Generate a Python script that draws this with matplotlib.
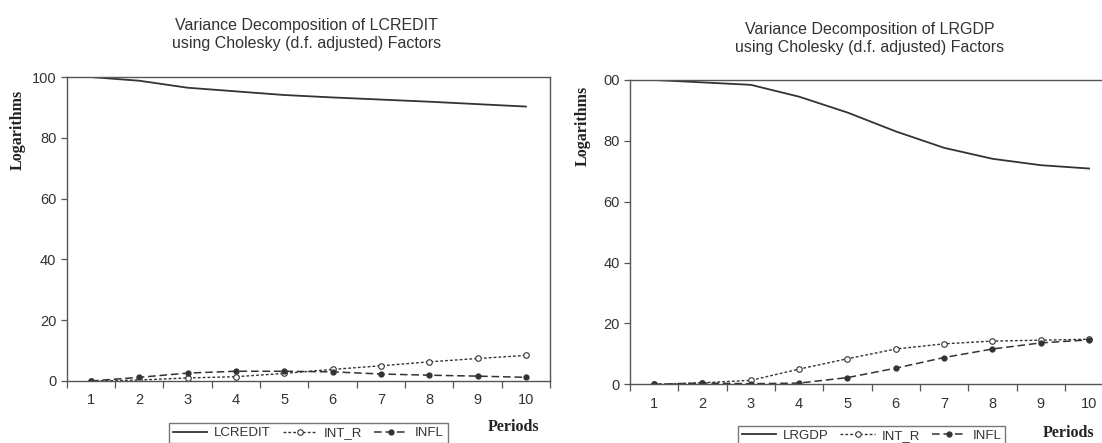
import matplotlib
matplotlib.use('agg')
import matplotlib.pyplot as plt
from matplotlib.ticker import FixedLocator

periods = [1, 2, 3, 4, 5, 6, 7, 8, 9, 10]

# left panel: variance decomposition of LCREDIT
lcredit = [100.0, 98.8, 96.5, 95.3, 94.1, 93.3, 92.6, 91.9, 91.1, 90.3]
int_r_left = [0.0, 0.3, 1.0, 1.4, 2.5, 3.8, 5.0, 6.3, 7.4, 8.4]
infl_left = [0.0, 1.2, 2.6, 3.2, 3.2, 3.0, 2.3, 1.9, 1.6, 1.2]

# right panel: variance decomposition of LRGDP
lrgdp = [100.0, 99.2, 98.4, 94.5, 89.3, 83.1, 77.7, 74.1, 72.0, 70.9]
int_r_right = [0.0, 0.5, 1.3, 5.0, 8.4, 11.6, 13.3, 14.2, 14.5, 14.8]
infl_right = [0.0, 0.4, 0.2, 0.4, 2.2, 5.3, 8.8, 11.6, 13.6, 14.6]

y_ticks = [0, 20, 40, 60, 80, 100]
y_labels_left = ['0', '20', '40', '60', '80', '100']
y_labels_right = ['0', '20', '40', '60', '80', '00']

plt.rcParams['font.family'] = ['Liberation Sans', 'DejaVu Sans']
ink = '#333333'
axis_col = '#555555'


def draw_panel(ax, main, int_r, infl, main_name, y_labels, leg_y):
    ax.plot(periods, main, color=ink, lw=1.3, label=main_name)
    ax.plot(periods, int_r, color=ink, lw=1.0, dashes=(2, 1.5), marker='o',
            markersize=4, markerfacecolor='white', markeredgecolor=ink,
            markeredgewidth=0.8, label='INT_R')
    ax.plot(periods, infl, color=ink, lw=1.1, dashes=(5, 2.5), marker='o',
            markersize=3.5, markerfacecolor=ink, markeredgecolor=ink,
            label='INFL')
    ax.set_xlim(0.5, 10.5)
    ax.set_ylim(0, 100)
    ax.set_xticks(periods)
    ax.xaxis.set_minor_locator(FixedLocator([p + 0.5 for p in [0] + periods]))
    ax.set_yticks(y_ticks)
    ax.set_yticklabels(y_labels)
    ax.tick_params(axis='x', which='major', length=0, pad=9, labelsize=10.5,
                   labelcolor='#333333')
    ax.tick_params(axis='x', which='minor', length=5, width=0.9, direction='out',
                   color=axis_col)
    ax.tick_params(axis='y', length=4, width=0.9, direction='out', labelsize=10.5,
                   color=axis_col, labelcolor='#333333')
    for sp in ax.spines.values():
        sp.set_color(axis_col)
        sp.set_linewidth(1.0)
    leg = ax.legend(loc='upper center', bbox_to_anchor=(0.5, leg_y), ncol=3,
                    fontsize=9.5, frameon=True, fancybox=False, handlelength=2.6,
                    handletextpad=0.5, columnspacing=0.9, borderpad=0.3,
                    edgecolor=axis_col)
    leg.get_frame().set_linewidth(1.0)
    for t in leg.get_texts():
        t.set_color('#333333')


fig = plt.figure(figsize=(11.02, 4.43), dpi=100)
ax1 = fig.add_axes([0.0606, 0.140, 0.4385, 0.686])
ax2 = fig.add_axes([0.5717, 0.1325, 0.4385, 0.687])

draw_panel(ax1, lcredit, int_r_left, infl_left, 'LCREDIT', y_labels_left, -0.117)
draw_panel(ax2, lrgdp, int_r_right, infl_right, 'LRGDP', y_labels_right, -0.115)

fig.text(0.2785, 0.921, 'Variance Decomposition of LCREDIT\nusing Cholesky (d.f. adjusted) Factors',
         ha='center', va='center', fontsize=11.5, color='#333333', linespacing=1.25)
fig.text(0.7895, 0.913, 'Variance Decomposition of LRGDP\nusing Cholesky (d.f. adjusted) Factors',
         ha='center', va='center', fontsize=11.5, color='#333333', linespacing=1.25)

serif = ['Liberation Serif', 'DejaVu Serif']
fig.text(0.0163, 0.7065, 'Logarithms', rotation=90, ha='center', va='center',
         fontsize=11.5, fontweight='bold', family=serif, color='#222222')
fig.text(0.529, 0.7156, 'Logarithms', rotation=90, ha='center', va='center',
         fontsize=11.5, fontweight='bold', family=serif, color='#222222')
fig.text(0.4655, 0.036, 'Periods', ha='center', va='center',
         fontsize=11.5, fontweight='bold', family=serif, color='#222222')
fig.text(0.970, 0.0226, 'Periods', ha='center', va='center',
         fontsize=11.5, fontweight='bold', family=serif, color='#222222')

plt.savefig('out.png', dpi=100)
